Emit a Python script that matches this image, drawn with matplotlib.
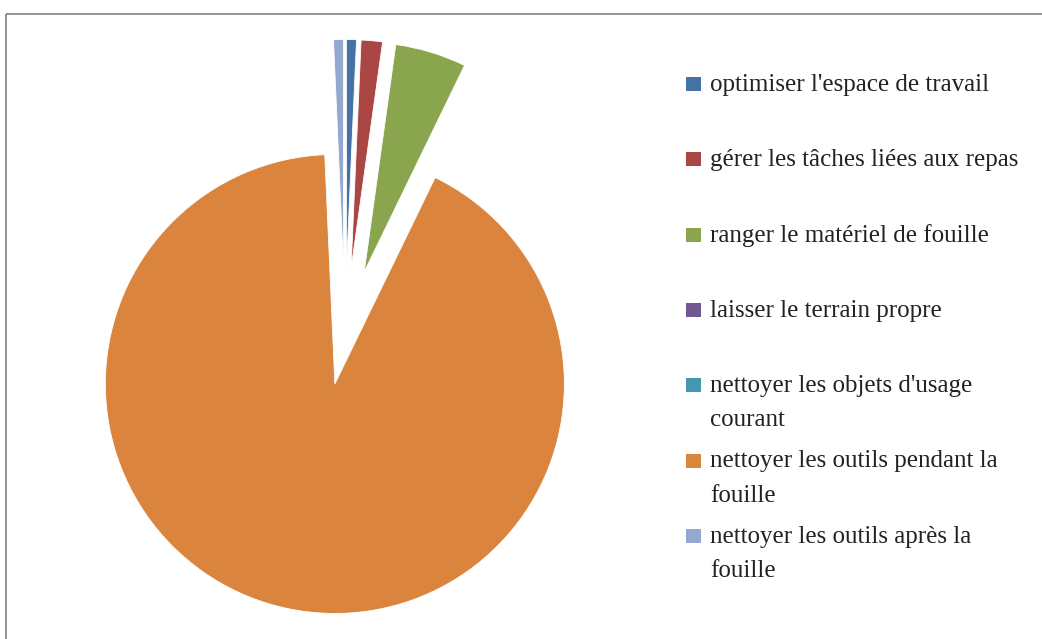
import matplotlib
matplotlib.use("Agg")
import matplotlib.pyplot as plt
from matplotlib.patches import Rectangle

categories = [
    "optimiser l'espace de travail",
    "gérer les tâches liées aux repas",
    "ranger le matériel de fouille",
    "laisser le terrain propre",
    "nettoyer les objets d'usage\ncourant",
    "nettoyer les outils pendant la\nfouille",
    "nettoyer les outils après la\nfouille",
]
values = [0.7, 1.5, 5.0, 0.0, 0.0, 92.1, 0.7]
colors = ["#4572A7", "#AA4643", "#89A54E", "#71588F", "#4198AF", "#DB843D", "#93A9CF"]

W, H = 1042, 639
fig = plt.figure(figsize=(W / 100, H / 100), dpi=100)
ax = fig.add_axes([0, 0, 1, 1])

radius = 229.5
center = (345, H - 335)
explode = [66 if v < 10 else 50 for v in values]

ax.pie(values, colors=colors, startangle=90, counterclock=False,
       radius=radius, center=center, explode=explode,
       wedgeprops=dict(edgecolor="white", linewidth=0.6))

ax.set_xlim(0, W)
ax.set_ylim(0, H)
ax.set_aspect("equal")
ax.axis("off")

# chart border
ax.plot([5.5, 5.5], [0, H - 13.5], color="#8a8a8a", lw=1.3, solid_capstyle="butt")
ax.plot([5.5, W], [H - 13.5, H - 13.5], color="#8a8a8a", lw=1.3, solid_capstyle="butt")

# legend
font = dict(family=["Liberation Serif", "DejaVu Serif"], size=18, color="#222222")
y0, step, lstep = 84, 75.3, 34
for i, (lab, col) in enumerate(zip(categories, colors)):
    yc = y0 + i * step
    ax.add_patch(Rectangle((686, H - yc - 7), 15, 14, facecolor=col, edgecolor="none"))
    for k, line in enumerate(lab.split("\n")):
        ax.text(710, H - (yc + 7 + k * lstep), line, ha="left", va="baseline", **font)

fig.savefig("out.png", dpi=100)
